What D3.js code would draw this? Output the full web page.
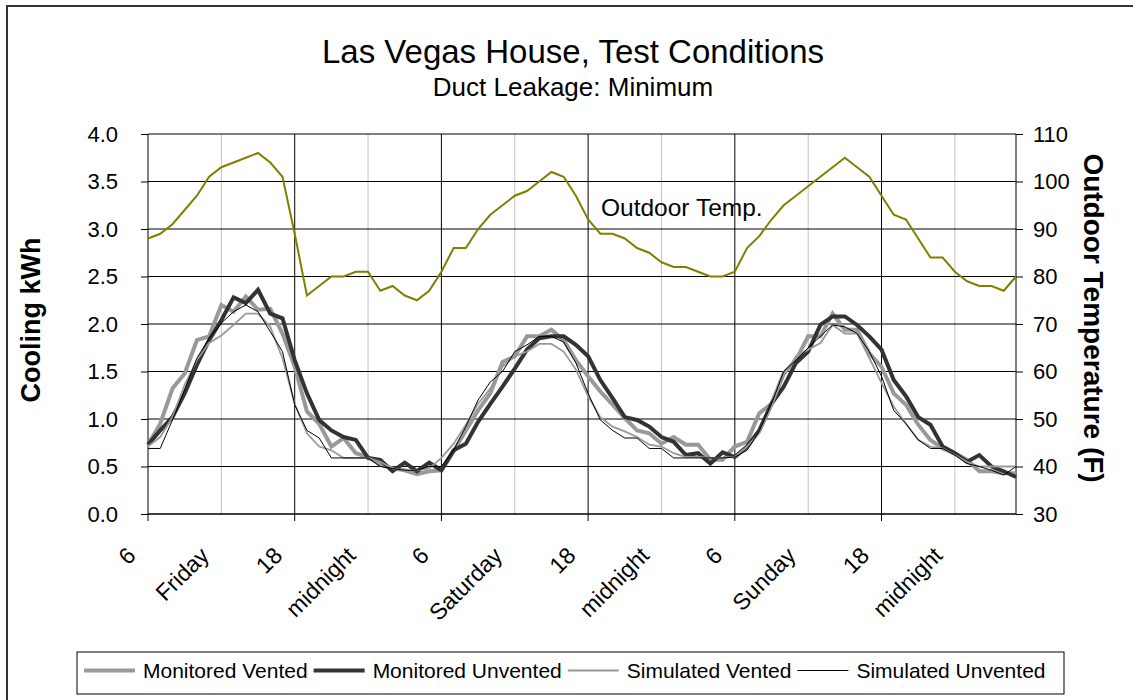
<!DOCTYPE html>
<html>
<head>
<meta charset="utf-8">
<script src="https://d3js.org/d3.v7.min.js"></script>
<style>
  body { margin: 0; background: #fff; }
  text { font-family: Arial, "Liberation Sans", sans-serif; fill: #000; }
</style>
</head>
<body>
<div id="chart"></div>
<script>
// Las Vegas House - hourly cooling vs outdoor temp

var hourLabels = ["6", "Friday", "18", "midnight", "6", "Saturday", "18", "midnight", "6", "Sunday", "18", "midnight"];
var kwhTicks = [0, 0.5, 1, 1.5, 2, 2.5, 3, 3.5, 4];
var tempTicks = [30, 40, 50, 60, 70, 80, 90, 100, 110];

var outdoorTemp = [88, 89, 91, 94, 97, 101, 103, 104, 105, 106, 104, 101,
    89, 76, 78, 80, 80, 81, 81, 77, 78, 76, 75, 77,
    81, 86, 86, 90, 93, 95, 97, 98, 100, 102, 101, 97,
    92, 89, 89, 88, 86, 85, 83, 82, 82, 81, 80, 80,
    81, 86, 88.5, 92, 95, 97, 99, 101, 103, 105, 103, 101,
    97, 93, 92, 88, 84, 84, 81, 79, 78, 78, 77, 80];

var monVented = [0.73, 0.95, 1.32, 1.48, 1.83, 1.87, 2.2, 2.13, 2.29, 2.15, 2.16, 1.9,
    1.55, 1.08, 0.95, 0.71, 0.8, 0.64, 0.6, 0.52, 0.48, 0.46, 0.42, 0.45,
    0.46, 0.66, 0.88, 1.09, 1.27, 1.6, 1.66, 1.87, 1.87, 1.94, 1.83, 1.62,
    1.45, 1.29, 1.15, 1.01, 0.88, 0.85, 0.74, 0.81, 0.73, 0.73, 0.57, 0.57,
    0.71, 0.76, 1.06, 1.16, 1.48, 1.62, 1.87, 1.87, 2.11, 1.94, 1.94, 1.69,
    1.55, 1.27, 1.15, 0.94, 0.78, 0.69, 0.64, 0.57, 0.45, 0.45, 0.43, 0.43];

var monUnvented = [0.73, 0.88, 1.02, 1.27, 1.57, 1.83, 2.04, 2.28, 2.22, 2.36, 2.11, 2.06,
    1.62, 1.27, 0.99, 0.88, 0.81, 0.78, 0.59, 0.57, 0.45, 0.54, 0.45, 0.54,
    0.46, 0.67, 0.74, 0.97, 1.16, 1.34, 1.53, 1.73, 1.85, 1.87, 1.87, 1.78,
    1.66, 1.41, 1.22, 1.02, 0.99, 0.92, 0.81, 0.76, 0.62, 0.64, 0.53, 0.65,
    0.6, 0.71, 0.88, 1.16, 1.34, 1.59, 1.71, 1.99, 2.08, 2.08, 1.99, 1.87,
    1.73, 1.41, 1.24, 1.02, 0.94, 0.71, 0.64, 0.55, 0.62, 0.5, 0.45, 0.39];

var simVented = [0.71, 0.81, 1.02, 1.36, 1.62, 1.8, 1.88, 1.99, 2.11, 2.11, 1.97, 1.64,
    1.16, 0.85, 0.71, 0.67, 0.59, 0.59, 0.59, 0.55, 0.48, 0.46, 0.46, 0.48,
    0.59, 0.74, 0.94, 1.16, 1.32, 1.55, 1.66, 1.71, 1.79, 1.79, 1.71, 1.52,
    1.24, 1.02, 0.92, 0.87, 0.81, 0.73, 0.71, 0.64, 0.6, 0.6, 0.59, 0.59,
    0.6, 0.71, 0.85, 1.13, 1.45, 1.66, 1.73, 1.8, 1.99, 1.9, 1.9, 1.64,
    1.38, 1.13, 0.95, 0.78, 0.71, 0.69, 0.62, 0.55, 0.5, 0.5, 0.5, 0.5];

var simUnvented = [0.69, 0.69, 0.99, 1.31, 1.64, 1.85, 2.01, 2.13, 2.2, 2.13, 1.92, 1.71,
    1.15, 0.88, 0.8, 0.59, 0.59, 0.59, 0.59, 0.5, 0.48, 0.46, 0.46, 0.5,
    0.5, 0.67, 0.92, 1.2, 1.39, 1.5, 1.71, 1.78, 1.87, 1.87, 1.81, 1.59,
    1.27, 0.99, 0.88, 0.8, 0.8, 0.69, 0.69, 0.59, 0.59, 0.59, 0.59, 0.59,
    0.6, 0.67, 0.87, 1.16, 1.5, 1.62, 1.75, 1.87, 1.99, 1.97, 1.9, 1.71,
    1.45, 1.09, 0.95, 0.78, 0.69, 0.69, 0.62, 0.53, 0.5, 0.46, 0.41, 0.5];

var seriesNames = ["Monitored Vented", "Monitored Unvented", "Simulated Vented", "Simulated Unvented"];

var width = 1133;
var height = 700;

var plot = { left: 148, right: 1016, top: 134, bottom: 514 };

var svg = d3.select("#chart")
    .append("svg")
    .attr("width", width)
    .attr("height", height);

// outer chart border (cut off on right and bottom)
svg.append("rect")
    .attr("x", 7)
    .attr("y", 6)
    .attr("width", 1140)
    .attr("height", 710)
    .attr("fill", "#fff")
    .attr("stroke", "#333")
    .attr("stroke-width", 2);

var x = d3.scaleLinear().domain([0, 71]).range([plot.left, plot.right]);
var yKwh = d3.scaleLinear().domain([0, 4]).range([plot.bottom, plot.top]);
var yTemp = d3.scaleLinear().domain([30, 110]).range([plot.bottom, plot.top]);

var hourTicks = hourLabels.map(function(d, i) { return i * 6; });

// vertical grid: light at 12/24, dark at 6/18
svg.append("g")
    .selectAll("line")
    .data(hourTicks.slice(1))
    .join("line")
    .attr("x1", function(d) { return x(d); })
    .attr("x2", function(d) { return x(d); })
    .attr("y1", plot.top)
    .attr("y2", plot.bottom)
    .attr("stroke", function(d) { return (d % 12 === 0) ? "#000" : "#c0c0c0"; })
    .attr("stroke-width", 1);

// horizontal grid
svg.append("g")
    .selectAll("line")
    .data(kwhTicks)
    .join("line")
    .attr("x1", plot.left)
    .attr("x2", plot.right)
    .attr("y1", function(d) { return yKwh(d); })
    .attr("y2", function(d) { return yKwh(d); })
    .attr("stroke", "#000")
    .attr("stroke-width", 1);

// left axis
var leftAxis = svg.append("g")
    .attr("transform", "translate(" + plot.left + ",0)")
    .call(d3.axisLeft(yKwh).tickValues(kwhTicks).tickFormat(d3.format(".1f")).tickSize(7).tickPadding(23));
leftAxis.select(".domain").attr("stroke", "#000").attr("d", "M0," + plot.top + "V" + plot.bottom);
leftAxis.selectAll("text").attr("font-size", 22).attr("font-family", "Arial, 'Liberation Sans', sans-serif");

// right axis
var rightAxis = svg.append("g")
    .attr("transform", "translate(" + plot.right + ",0)")
    .call(d3.axisRight(yTemp).tickValues(tempTicks).tickSize(7).tickPadding(10));
rightAxis.select(".domain").attr("stroke", "#000").attr("d", "M0," + plot.top + "V" + plot.bottom);
rightAxis.selectAll("text").attr("font-size", 22).attr("font-family", "Arial, 'Liberation Sans', sans-serif");

// bottom axis line + ticks every 12 hours
svg.append("line")
    .attr("x1", plot.left).attr("x2", plot.right)
    .attr("y1", plot.bottom).attr("y2", plot.bottom)
    .attr("stroke", "#000");

svg.append("g")
    .selectAll("line")
    .data(hourTicks.filter(function(d) { return d % 12 === 0; }))
    .join("line")
    .attr("x1", function(d) { return x(d); })
    .attr("x2", function(d) { return x(d); })
    .attr("y1", plot.bottom)
    .attr("y2", plot.bottom + 7)
    .attr("stroke", "#000");

svg.append("g")
    .selectAll("text")
    .data(hourLabels)
    .join("text")
    .attr("transform", function(d, i) {
        return "translate(" + (x(i * 6) - 11) + "," + (plot.bottom + 43) + ") rotate(-45)";
    })
    .attr("text-anchor", "end")
    .attr("font-size", 23)
    .text(function(d) { return d; });

// lines
var kwhLine = d3.line()
    .x(function(d, i) { return x(i); })
    .y(function(d) { return yKwh(d); });

var tempLine = d3.line()
    .x(function(d, i) { return x(i); })
    .y(function(d) { return yTemp(d); });

var styles = [
    { data: monVented, color: "#999999", w: 4 },
    { data: monUnvented, color: "#333333", w: 4 },
    { data: simVented, color: "#999999", w: 1.8 },
    { data: simUnvented, color: "#000000", w: 1 }
];

styles.forEach(function(s) {
    svg.append("path")
        .datum(s.data)
        .attr("fill", "none")
        .attr("stroke", s.color)
        .attr("stroke-width", s.w)
        .attr("stroke-linejoin", "miter")
        .attr("d", kwhLine);
});

svg.append("path")
    .datum(outdoorTemp)
    .attr("fill", "none")
    .attr("stroke", "#808000")
    .attr("stroke-width", 2)
    .attr("d", tempLine);

svg.append("text")
    .attr("x", 601)
    .attr("y", 216)
    .attr("font-size", 24.5)
    .text("Outdoor Temp.");

// titles
svg.append("text")
    .attr("x", 573)
    .attr("y", 63)
    .attr("text-anchor", "middle")
    .attr("font-size", 33)
    .text("Las Vegas House, Test Conditions");

svg.append("text")
    .attr("x", 573)
    .attr("y", 96)
    .attr("text-anchor", "middle")
    .attr("font-size", 26)
    .text("Duct Leakage: Minimum");

svg.append("text")
    .attr("transform", "translate(40,320) rotate(-90)")
    .attr("text-anchor", "middle")
    .attr("font-size", 27)
    .attr("font-weight", "bold")
    .text("Cooling kWh");

svg.append("text")
    .attr("transform", "translate(1084,318) rotate(90)")
    .attr("text-anchor", "middle")
    .attr("font-size", 28)
    .attr("font-weight", "bold")
    .text("Outdoor Temperature (F)");

// legend
var legend = svg.append("g");
legend.append("rect")
    .attr("x", 77)
    .attr("y", 652)
    .attr("width", 987)
    .attr("height", 42)
    .attr("fill", "#fff")
    .attr("stroke", "#000")
    .attr("stroke-width", 1);

var lx = 84;
styles.forEach(function(s, i) {
    legend.append("line")
        .attr("x1", lx).attr("x2", lx + 51)
        .attr("y1", 670.5).attr("y2", 670.5)
        .attr("stroke", s.color)
        .attr("stroke-width", s.w);
    var t = legend.append("text")
        .attr("x", lx + 59)
        .attr("y", 678)
        .attr("font-size", 21)
        .text(seriesNames[i]);
    lx = lx + 59 + t.node().getComputedTextLength() + 6;
});
</script>
</body>
</html>
